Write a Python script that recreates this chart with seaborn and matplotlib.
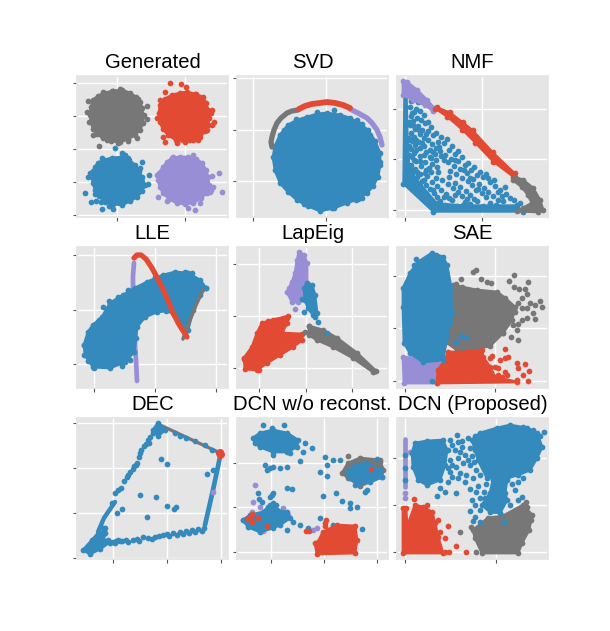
import matplotlib
matplotlib.use("Agg")
import matplotlib.pyplot as plt
import seaborn as sns

BLUE = "#348ABD"
RED = "#E24A33"
PURPLE = "#988ED5"
GRAY = "#777777"

titles = ["Generated", "SVD", "NMF", "LLE", "LapEig", "SAE", "DEC", "DCN w/o reconst.", "DCN (Proposed)"]
x_limits = [(77, 228), (237, 388), (397, 548)]
y_limits = [(217, 76), (388, 247), (559, 418)]
x_ticks = [[117, 185], [253, 326], [405, 482], [94, 155, 216], [259, 306, 352], [405, 495], [113, 167, 221], [271, 324, 377], [405, 496]]
y_ticks = [[83, 116, 149, 182, 215], [78, 130, 181], [109, 159, 210], [255, 310, 364], [264, 316, 368], [276, 328, 381], [423, 468, 513, 558], [463, 507, 552], [458, 505, 552]]

# Generated
gen_gray_body = [(104, 93), (113, 91), (122, 90), (130, 93), (136, 97), (140, 102), (142, 108), (143, 116), (143, 123), (140, 130), (135, 135), (128, 139), (120, 142), (111, 141), (103, 138), (97, 134), (93, 129), (91, 122), (90, 115), (91, 107), (93, 100), (98, 96)]
gen_gray_pts = [(88, 101), (87, 112), (147, 106), (147, 119), (99, 146), (120, 89), (103, 92), (138, 99), (93, 135), (137, 138), (107, 140), (118, 143), (89, 122), (112, 91), (144, 115), (128, 141)]
gen_red_body = [(172, 95), (180, 93), (187, 92), (195, 94), (203, 97), (206, 103), (208, 110), (209, 118), (208, 125), (205, 131), (200, 137), (193, 140), (185, 142), (176, 140), (168, 135), (163, 129), (160, 122), (159, 113), (160, 105), (165, 99)]
gen_red_pts = [(170, 83), (181, 84), (186, 87), (165, 92), (160, 100), (157, 118), (212, 110), (214, 122), (212, 125), (177, 143), (198, 140), (189, 140), (165, 142), (163, 137), (207, 130), (211, 113), (196, 94)]
gen_blue_body = [(103, 160), (112, 158), (122, 157), (129, 160), (135, 165), (139, 171), (142, 177), (145, 185), (142, 191), (137, 197), (130, 201), (122, 205), (113, 204), (105, 202), (99, 196), (95, 190), (93, 183), (92, 177), (93, 171), (95, 167), (98, 163)]
gen_blue_pts = [(115, 148), (102, 158), (122, 153), (125, 155), (142, 162), (149, 175), (148, 184), (85, 193), (90, 173), (88, 177), (91, 202), (96, 201), (102, 209), (113, 209), (101, 202), (140, 168), (95, 194), (128, 158), (109, 206)]
gen_purple_body = [(172, 158), (180, 157), (188, 157), (196, 159), (202, 163), (206, 170), (208, 177), (209, 185), (207, 193), (201, 198), (193, 203), (185, 204), (177, 203), (169, 199), (163, 193), (160, 187), (158, 180), (159, 173), (163, 167), (167, 162)]
gen_purple_pts = [(219, 173), (222, 192), (212, 176), (213, 187), (210, 192), (158, 197), (167, 201), (195, 210), (188, 208), (157, 175), (193, 155), (173, 157), (211, 190), (200, 203)]

# SVD
svd_blue_body = [(327, 113), (340, 115), (350, 118), (360, 124), (368, 130), (375, 141), (380, 153), (380, 165), (378, 177), (373, 186), (367, 193), (358, 199), (347, 203), (334, 208), (320, 211), (308, 206), (297, 200), (288, 192), (280, 183), (275, 170), (273, 157), (275, 146), (280, 135), (288, 125), (297, 120), (307, 117), (317, 114)]
svd_blue_pts = [(334, 110), (317, 112), (296, 119), (357, 120), (362, 124), (284, 130), (370, 135), (380, 162), (277, 172), (362, 198), (356, 200), (304, 204), (332, 208)]
svd_red_arc = [(299, 109), (305, 106), (312, 104), (320, 103), (327, 102), (335, 103), (343, 105), (350, 108)]
svd_gray_arc = [(298, 110), (292, 111), (287, 113), (281, 118), (277, 123), (274, 130), (272, 137), (271, 142), (272, 147)]
svd_purple_arc = [(350, 109), (358, 113), (367, 118), (372, 123), (377, 130), (380, 137), (382, 145)]

# NMF
nmf_blue_body = [(404, 95), (407, 95), (408, 140), (410, 170), (420, 183), (437, 203), (463, 205), (517, 205), (523, 212), (433, 212), (403, 184)]
nmf_blue_pts = [(411, 101), (418, 102), (410, 107), (416, 109), (412, 113), (420, 111), (411, 116), (417, 118), (424, 115), (413, 121), (421, 120), (428, 122), (410, 125), (418, 126), (425, 123),
                (415, 129), (422, 130), (431, 127), (411, 133), (420, 134), (428, 131), (436, 133), (414, 137), (424, 138), (433, 135), (441, 137), (447, 139), (412, 141), (419, 142), (428, 140), (438, 142),
                (415, 145), (424, 146), (432, 144), (444, 143), (452, 146), (411, 149), (420, 148), (430, 150), (439, 147), (449, 150), (458, 151), (414, 153), (426, 152), (435, 154), (445, 155), (455, 154),
                (412, 157), (420, 156), (431, 158), (441, 156), (451, 159), (462, 157), (416, 161), (425, 162), (436, 160), (448, 162), (458, 161), (468, 163), (411, 165), (421, 166), (432, 164), (454, 166),
                (465, 165), (474, 167), (415, 169), (426, 170), (437, 167), (450, 171), (460, 169), (471, 170), (480, 172), (412, 173), (420, 174), (431, 172), (456, 174), (467, 173), (477, 175), (486, 174),
                (417, 177), (427, 176), (436, 178), (449, 177), (462, 178), (473, 179), (483, 177), (494, 180), (422, 181), (432, 182), (442, 180), (455, 183), (468, 181), (479, 184), (490, 182), (426, 185),
                (437, 186), (448, 184), (460, 187), (472, 185), (484, 188), (495, 186), (505, 187), (430, 189), (441, 190), (453, 188), (466, 191), (478, 189), (488, 192), (500, 190), (434, 193), (446, 194),
                (458, 192), (470, 195), (482, 193), (493, 196), (506, 194), (437, 197), (449, 198), (462, 196), (474, 199), (486, 197), (498, 200), (510, 198), (440, 201), (452, 200), (465, 202), (477, 201),
                (490, 203), (503, 201), (445, 205), (457, 206), (470, 204), (483, 206), (496, 205), (520, 203), (414, 112), (409, 122), (414, 126), (419, 130), (409, 138), (416, 140), (422, 143), (409, 146), (416, 150), (424, 155),
                (409, 155), (414, 160), (420, 161), (410, 168), (417, 172), (425, 173), (429, 168), (438, 172), (444, 160), (440, 151), (430, 157), (436, 148), (426, 134), (433, 152), (455, 160), (464, 170), (470, 178), (476, 190), (488, 178), (498, 192), (502, 196), (514, 200), (424, 180), (433, 190), (444, 197), (455, 195), (467, 199)]
nmf_purple_body = [(403, 81), (407, 82), (417, 90), (427, 100), (434, 108), (433, 111), (425, 105), (413, 100), (403, 95)]
nmf_red_body = [(437, 107), (450, 112), (463, 122), (473, 130), (493, 152), (515, 173), (513, 177), (493, 162), (475, 143), (462, 130), (447, 117), (435, 109)]
nmf_gray_body = [(515, 177), (523, 180), (533, 188), (540, 200), (543, 210), (538, 212), (517, 211), (523, 208), (532, 203), (528, 195), (522, 187), (513, 180)]

# LLE
lle_blue_body = [(84, 345), (88, 332), (93, 325), (102, 317), (110, 303), (123, 295), (135, 288), (147, 282), (163, 275), (175, 272), (188, 273), (200, 280), (206, 288), (200, 295), (193, 310), (188, 330), (185, 333), (178, 322), (173, 313), (166, 311), (157, 312), (145, 317), (137, 327), (136, 338), (134, 352), (125, 362), (110, 368), (93, 367), (85, 355)]
lle_blue_pts = [(94, 368), (84, 345), (109, 301), (103, 307), (118, 297), (185, 272), (192, 273), (84, 355), (88, 361), (122, 366), (130, 360), (187, 273), (200, 283), (206, 288), (92, 331), (99, 320), (128, 290), (155, 277)]
lle_purple_curve = [(134, 263), (133, 276), (133, 290), (135, 330), (135, 345), (136, 360), (137, 381)]
lle_red_curve = [(134, 258), (137, 255), (141, 255), (146, 259), (152, 268), (160, 283), (167, 298), (173, 313), (180, 326), (187, 337)]
lle_gray_curve = [(183, 339), (190, 320), (196, 305), (203, 290)]

# LapEig
lap_purple_body = [(299, 252), (304, 255), (307, 263), (307, 283), (305, 300), (298, 302), (292, 302), (287, 292), (292, 282), (295, 273), (297, 260)]
lap_purple_pts = [(295, 309), (289, 288)]
lap_blue_body = [(307, 283), (312, 285), (315, 295), (317, 313), (313, 315), (308, 308), (305, 300), (304, 288)]
lap_blue_pts = [(304, 312), (318, 322), (315, 317), (302, 299), (327, 333)]
lap_red_body = [(262, 323), (273, 320), (288, 316), (287, 323), (282, 333), (302, 334), (302, 340), (293, 347), (280, 355), (267, 363), (257, 370), (245, 369), (244, 358), (252, 347), (257, 333)]
lap_red_pts = [(244, 359), (259, 370), (268, 321), (276, 320), (287, 318), (300, 336)]
lap_gray_body = [(309, 326), (323, 330), (337, 338), (357, 353), (376, 371), (373, 372), (353, 358), (333, 347), (317, 340), (309, 335)]
lap_gray_pts = [(305, 332), (309, 326), (375, 371)]

# SAE
sae_blue_body = [(432, 253), (443, 257), (447, 265), (451, 287), (452, 313), (447, 337), (443, 360), (423, 362), (410, 353), (404, 343), (403, 307), (403, 288), (410, 273), (418, 262)]
sae_blue_pts = [(461, 336), (466, 337), (456, 342), (450, 322), (432, 381), (414, 265), (422, 262), (416, 259), (436, 255)]
sae_gray_body = [(453, 285), (462, 287), (477, 290), (497, 292), (505, 298), (515, 307), (512, 320), (503, 333), (490, 346), (470, 350), (457, 350), (446, 342), (450, 313), (452, 293)]
sae_gray_pts = [(476, 270), (473, 272), (514, 275), (509, 281), (481, 279), (487, 282), (491, 283), (528, 282), (514, 287), (519, 289), (525, 289), (522, 298), (527, 294), (540, 301), (542, 307), (535, 305),
                (530, 303), (527, 308), (533, 313), (535, 319), (527, 318), (522, 320), (518, 324), (513, 325), (517, 330), (518, 340), (511, 337), (515, 312), (503, 333), (461, 279), (456, 284), (518, 303), (522, 308)]
sae_purple_body = [(403, 357), (413, 358), (423, 362), (438, 363), (437, 383), (404, 383)]
sae_red_body = [(448, 352), (467, 352), (482, 350), (483, 357), (490, 367), (495, 377), (517, 382), (437, 383), (438, 370), (445, 360)]
sae_red_pts = [(505, 349), (508, 357), (505, 358), (500, 360), (492, 356), (517, 363), (525, 364), (518, 368), (523, 375), (529, 371), (528, 381), (505, 372), (498, 368), (507, 375), (517, 380), (495, 367), (502, 377), (490, 358), (498, 375)]

# DEC
dec_blue_body = [(83, 550), (92, 540), (99, 532), (103, 535), (100, 543), (110, 542), (100, 549), (90, 554)]
dec_left_edge = [(98, 532), (104, 518), (115, 502)]
dec_top_body = [(153, 430), (158, 423), (165, 430), (158, 436)]
dec_right_edge = [(220, 457), (213, 490), (205, 525)]
dec_gray_edge = [(160, 425), (218, 452)]
dec_blue_pts = [(112, 503), (115, 493), (118, 490), (121, 488), (124, 481), (128, 475), (130, 472), (134, 466), (137, 463), (139, 457), (140, 453), (144, 446), (148, 440), (150, 437), (153, 433),
                (136, 465), (133, 469), (141, 450), (146, 444), (127, 477), (149, 443), (161, 459), (167, 464), (140, 495), (156, 497), (167, 506), (176, 507), (174, 509), (147, 517), (207, 474), (213, 470), (117, 513), (122, 509), (103, 528), (105, 528), (104, 532), (105, 533), (108, 540), (103, 540),
                (110, 543), (113, 542), (116, 541), (118, 540), (115, 543), (120, 541), (122, 541), (126, 540), (128, 542), (133, 540), (137, 539), (139, 541), (143, 537), (148, 538), (152, 539), (155, 537), (159, 536), (163, 535), (167, 534),
                (169, 536), (173, 533), (177, 535), (180, 532), (183, 534), (186, 531), (189, 533), (192, 530), (195, 532), (198, 529), (202, 531), (204, 528), (175, 433), (180, 436), (186, 438), (195, 441), (205, 445), (212, 450), (218, 452)]
dec_red_pts = [(220, 452), (220, 455), (219, 453), (221, 454)]
dec_purple_pts = [(213, 492)]

# DCN w/o reconst.
wo_blue_top_body = [(253, 438), (260, 433), (273, 430), (287, 433), (298, 440), (297, 447), (287, 452), (273, 452), (260, 447), (255, 443)]
wo_gray_body = [(342, 473), (348, 463), (360, 458), (380, 460), (383, 470), (382, 477), (360, 486), (348, 478)]
wo_blue_right_body = [(347, 472), (355, 465), (367, 463), (380, 470), (382, 477), (370, 482), (358, 484), (350, 478)]
wo_blue_left_body = [(243, 520), (250, 515), (263, 512), (270, 505), (277, 510), (287, 512), (290, 518), (280, 525), (273, 528), (260, 532), (248, 527)]
wo_red_body = [(318, 542), (323, 532), (337, 525), (355, 526), (357, 540), (355, 553), (317, 554), (315, 543)]
wo_gray_pts = [(348, 456), (346, 470), (380, 462), (381, 468)]
wo_purple_pts = [(255, 485), (253, 502), (263, 531), (243, 520), (288, 515), (283, 508), (252, 512), (260, 507), (317, 528), (313, 530)]
wo_blue_pts = [(263, 425), (284, 425), (272, 428), (305, 443), (312, 448), (303, 452), (290, 453), (300, 461), (273, 455), (270, 468), (265, 465), (280, 468), (287, 467), (273, 467), (267, 470),
               (325, 457), (333, 460), (340, 460), (320, 472), (327, 465), (327, 476), (355, 485), (367, 490), (365, 492), (377, 459), (258, 493), (270, 497), (262, 502), (272, 495), (287, 488), (292, 489), (273, 493), (273, 503), (293, 522), (300, 525), (308, 528), (287, 530), (268, 507),
               (323, 496), (336, 493), (342, 501), (350, 503), (357, 507), (350, 508), (320, 518), (362, 529), (333, 525), (259, 499), (276, 505), (275, 509)]
wo_red_pts = [(250, 517), (252, 522), (247, 519), (258, 518), (267, 526), (252, 514), (325, 523), (325, 526), (326, 520), (309, 531), (306, 531), (371, 469)]

# DCN (Proposed)
pro_blue_right_body = [(472, 440), (480, 433), (497, 428), (510, 425), (527, 428), (537, 433), (542, 447), (537, 458), (530, 470), (518, 475), (507, 478), (487, 478), (478, 460), (475, 450)]
pro_blue_left_body = [(415, 443), (427, 441), (443, 440), (447, 450), (445, 465), (440, 480), (427, 485), (418, 480), (413, 467), (412, 453)]
pro_blue_low_body = [(493, 480), (507, 480), (505, 493), (507, 500), (500, 513), (490, 512), (482, 505), (490, 493)]
pro_blue_pts = [(457, 435), (450, 440), (462, 441), (468, 438), (475, 436), (448, 450), (455, 450), (462, 447), (470, 448), (450, 460), (458, 458), (465, 455), (472, 456), (448, 468), (456, 467), (463, 463), (470, 465), (476, 470),
                (452, 477), (460, 473), (466, 475), (473, 478), (480, 475), (440, 488), (445, 492), (437, 496), (456, 493), (470, 489), (476, 492), (480, 498), (484, 492), (472, 500), (475, 505), (470, 511), (480, 510), (475, 517), (480, 522), (473, 521), (504, 522),
                (512, 484), (518, 482), (523, 478), (515, 490), (522, 497), (510, 505), (518, 500), (495, 470), (405, 455), (405, 468), (405, 480), (540, 436), (533, 430), (523, 427), (544, 432),
                (452, 445), (458, 442), (460, 452), (452, 465), (468, 460), (474, 462), (450, 472), (458, 478), (465, 482), (486, 484), (492, 490), (485, 498), (448, 482), (478, 486)]
pro_purple_curve = [(405, 439), (405, 465), (405, 487)]
pro_purple_pts = [(405, 493), (405, 498), (410, 452), (413, 452)]
pro_red_body = [(403, 508), (406, 508), (407, 527), (415, 505), (423, 507), (432, 512), (435, 523), (438, 537), (443, 553), (403, 553)]
pro_red_pts = [(448, 526), (440, 532), (445, 538), (449, 552), (445, 552), (456, 546), (466, 552), (414, 499), (427, 505), (438, 520)]
pro_gray_body = [(488, 518), (503, 516), (523, 505), (532, 515), (529, 530), (522, 543), (518, 553), (482, 553), (475, 538), (473, 530)]
pro_gray_pts = [(526, 502), (471, 527), (460, 532), (476, 552), (478, 538), (475, 530), (527, 507), (531, 520)]

sns.set_theme(style="darkgrid", rc={"axes.facecolor": "#E5E5E5", "grid.color": "white", "grid.linewidth": 1.0,
                                    "axes.edgecolor": "#E5E5E5", "xtick.bottom": True, "ytick.left": True,
                                    "xtick.color": "#555555", "ytick.color": "#555555",
                                    "xtick.major.size": 3, "ytick.major.size": 3, "xtick.major.width": 0.8, "ytick.major.width": 0.8})
plt.rcParams["font.family"] = ["Liberation Sans", "DejaVu Sans"]


def dots(ax, points, color, size=17):
    xs, ys = zip(*points)
    sns.scatterplot(x=list(xs), y=list(ys), color=color, s=size, linewidth=0, ax=ax, zorder=3, legend=False)


def blob(ax, points, color, lw=2.0):
    xs, ys = zip(*points)
    ax.fill(xs, ys, color=color, lw=lw, joinstyle="round", zorder=3)
    dots(ax, points, color)


def curve(ax, points, color, lw=4.0):
    xs, ys = zip(*points)
    sns.lineplot(x=list(xs), y=list(ys), color=color, lw=lw, sort=False, estimator=None, ax=ax, zorder=3,
                 solid_capstyle="round", legend=False)


fig, axes = plt.subplots(3, 3, figsize=(6.1, 6.31), dpi=100)
fig.subplots_adjust(left=77 / 610, right=548 / 610, top=1 - 76 / 631, bottom=1 - 559 / 631, wspace=9 / 151, hspace=30 / 141)

for i, ax in enumerate(axes.flat):
    ax.set_xlim(x_limits[i % 3])
    ax.set_ylim(y_limits[i // 3])
    ax.set_xticks(x_ticks[i])
    ax.set_yticks(y_ticks[i])
    ax.set_xticklabels([])
    ax.set_yticklabels([])
    ax.set_title(titles[i], fontsize=14.6, pad=6, color="black")
    ax.set_axisbelow(True)

ax = axes[0, 0]
blob(ax, gen_gray_body, GRAY)
dots(ax, gen_gray_pts, GRAY)
blob(ax, gen_red_body, RED)
dots(ax, gen_red_pts, RED)
blob(ax, gen_blue_body, BLUE)
dots(ax, gen_blue_pts, BLUE)
blob(ax, gen_purple_body, PURPLE)
dots(ax, gen_purple_pts, PURPLE)

ax = axes[0, 1]
blob(ax, svd_blue_body, BLUE)
dots(ax, svd_blue_pts, BLUE)
curve(ax, svd_gray_arc, GRAY, 3.8)
curve(ax, svd_purple_arc, PURPLE, 3.8)
curve(ax, svd_red_arc, RED, 4.2)

ax = axes[0, 2]
blob(ax, nmf_blue_body, BLUE, 1.0)
dots(ax, nmf_blue_pts, BLUE)
blob(ax, nmf_purple_body, PURPLE)
blob(ax, nmf_red_body, RED, 1.0)
blob(ax, nmf_gray_body, GRAY)

ax = axes[1, 0]
curve(ax, lle_purple_curve, PURPLE, 3.4)
blob(ax, lle_blue_body, BLUE)
dots(ax, lle_blue_pts, BLUE)
curve(ax, lle_gray_curve, GRAY, 2.6)
curve(ax, lle_red_curve, RED, 3.8)

ax = axes[1, 1]
blob(ax, lap_purple_body, PURPLE)
dots(ax, lap_purple_pts, PURPLE)
blob(ax, lap_red_body, RED)
dots(ax, lap_red_pts, RED)
blob(ax, lap_gray_body, GRAY)
dots(ax, lap_gray_pts, GRAY)
blob(ax, lap_blue_body, BLUE)
dots(ax, lap_blue_pts, BLUE)

ax = axes[1, 2]
blob(ax, sae_gray_body, GRAY)
dots(ax, sae_gray_pts, GRAY)
blob(ax, sae_purple_body, PURPLE)
blob(ax, sae_red_body, RED)
dots(ax, sae_red_pts, RED)
blob(ax, sae_blue_body, BLUE)
dots(ax, sae_blue_pts, BLUE)

ax = axes[2, 0]
curve(ax, dec_gray_edge, GRAY, 2.4)
blob(ax, dec_blue_body, BLUE)
blob(ax, dec_top_body, BLUE)
curve(ax, dec_left_edge, BLUE, 3.2)
curve(ax, dec_right_edge, BLUE, 3.4)
dots(ax, dec_blue_pts, BLUE)
dots(ax, dec_purple_pts, PURPLE)
dots(ax, dec_red_pts, RED, 26)

ax = axes[2, 1]
blob(ax, wo_gray_body, GRAY)
dots(ax, wo_gray_pts, GRAY)
dots(ax, wo_purple_pts, PURPLE)
blob(ax, wo_blue_top_body, BLUE)
blob(ax, wo_blue_right_body, BLUE)
blob(ax, wo_blue_left_body, BLUE)
dots(ax, wo_blue_pts, BLUE)
blob(ax, wo_red_body, RED)
dots(ax, wo_red_pts, RED)

ax = axes[2, 2]
curve(ax, pro_purple_curve, PURPLE, 3.4)
dots(ax, pro_purple_pts, PURPLE)
blob(ax, pro_red_body, RED)
dots(ax, pro_red_pts, RED)
blob(ax, pro_gray_body, GRAY)
dots(ax, pro_gray_pts, GRAY)
blob(ax, pro_blue_right_body, BLUE)
blob(ax, pro_blue_left_body, BLUE)
blob(ax, pro_blue_low_body, BLUE)
dots(ax, pro_blue_pts, BLUE)

fig.savefig("out.png", dpi=100)
